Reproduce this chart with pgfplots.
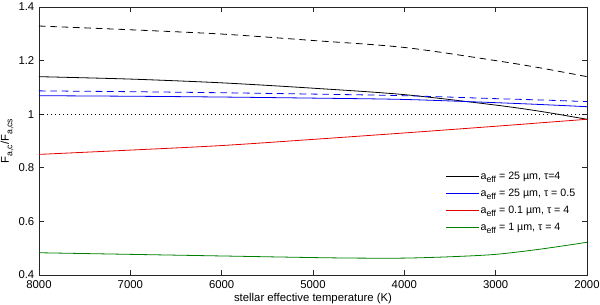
\documentclass[border=0pt]{standalone}
\usepackage{fontspec}
\setmainfont{Liberation Sans}
\usepackage{pgfplots}
\pgfplotsset{compat=1.18}
\usetikzlibrary{calc}
\definecolor{cblue}{RGB}{0,0,240}
\definecolor{mred}{rgb}{0.9,0,0}
\definecolor{mgreen}{rgb}{0,0.5,0}
\newcommand{\sub}[1]{\raisebox{-0.55ex}{\fontsize{6.5}{7}\selectfont #1}}
\begin{document}
\begin{tikzpicture}
\begin{axis}[
  name=ax,
  scale only axis,
  width=411pt, height=201pt,
  xmin=2000, xmax=8000, ymin=0.4, ymax=1.4,
  x dir=reverse,
  xtick={2000,3000,4000,5000,6000,7000,8000},
  ytick={0.4,0.6,0.8,1,1.2,1.4},
  tick align=inside,
  tick pos=both,
  major tick length=3.5pt,
  axis line style={line width=0.6pt, black!85},
  tick style={line width=0.5pt, black!85},
  /pgf/number format/assume math mode=true,
  /pgf/number format/1000 sep={},
  ticklabel style={font=\fontsize{8.5}{10}\selectfont},
  xticklabel style={yshift=-1pt},
  scaled ticks=false,
  yticklabel style={/pgf/number format/fixed},
  xlabel={stellar effective temperature (K)},
  xlabel style={font=\fontsize{8.5}{10}\selectfont, yshift=4pt},
  ylabel={F\sub{a,c}/F\sub{a,cs}},
  ylabel style={font=\fontsize{8.5}{10}\selectfont, yshift=-3pt},
  legend style={draw=none, fill=none, font=\fontsize{8}{9.5}\selectfont,
    at={(rel axis cs:0.99,0.405)}, anchor=north east, row sep=1.6pt,
    legend cell align=left,
    nodes={inner xsep=1.5pt}},
  legend image code/.code={\draw[mark repeat=2,mark phase=2] plot coordinates {(0cm,0cm) (0.4cm,0cm) (0.85cm,0cm)};},
]
\addplot[draw=black, line width=0.6pt, smooth] coordinates {
 (8000,1.140) (7000,1.131) (6000,1.117) (5000,1.097) (4000,1.073) (3000,1.034) (2500,1.010) (2000,0.981)};
\addlegendentry{a\sub{eff} = 25 µm, τ=4}
\addplot[draw=cblue, line width=0.6pt, smooth] coordinates {
 (8000,1.069) (7000,1.067) (6000,1.064) (5000,1.060) (4000,1.055) (3000,1.043) (2500,1.036) (2000,1.028)};
\addlegendentry{a\sub{eff} = 25 µm, τ = 0.5}
\addplot[draw=mred, line width=0.6pt, smooth] coordinates {
 (8000,0.850) (7000,0.866) (6000,0.883) (5000,0.906) (4000,0.930) (3000,0.955) (2500,0.968) (2000,0.981)};
\addlegendentry{a\sub{eff} = 0.1 µm, τ = 4}
\addplot[draw=mgreen, line width=0.6pt, smooth] coordinates {
 (8000,0.483) (7000,0.477) (6000,0.471) (5000,0.465) (4500,0.463) (4000,0.463) (3500,0.468) (3000,0.477) (2500,0.497) (2000,0.522)};
\addlegendentry{a\sub{eff} = 1 µm, τ = 4}
\addplot[draw=black, line width=0.6pt, smooth, dash pattern=on 5pt off 3.5pt, forget plot] coordinates {
 (8000,1.329) (7000,1.315) (6000,1.299) (5000,1.275) (4000,1.249) (3000,1.200) (2500,1.172) (2000,1.140)};
\addplot[draw=cblue, line width=0.6pt, smooth, dash pattern=on 5pt off 3.5pt, forget plot] coordinates {
 (8000,1.087) (7000,1.084) (6000,1.080) (5000,1.075) (4000,1.069) (3000,1.058) (2500,1.053) (2000,1.047)};
\addplot[draw=black, line width=0.5pt, dash pattern=on 0.6pt off 2.4pt, forget plot] coordinates {
 (8000,1) (2000,1)};
\end{axis}
\pgfresetboundingbox
\path[use as bounding box] ($(ax.south west)+(-29.25pt,-22.5pt)$) rectangle ($(ax.north east)+(9.75pt,5.25pt)$);
\end{tikzpicture}
\end{document}
